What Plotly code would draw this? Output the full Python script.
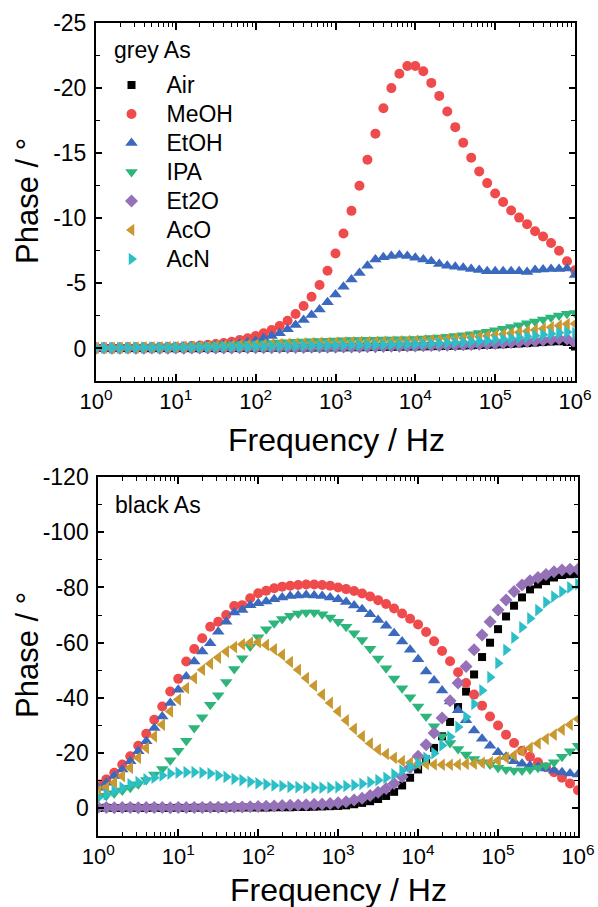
import plotly.graph_objects as go

# ---- measurement sweep (Hz), 10 points per decade ----
freq = [1, 1.259, 1.585, 1.995, 2.512, 3.162, 3.981, 5.012, 6.31, 7.943,
        10, 12.59, 15.85, 19.95, 25.12, 31.62, 39.81, 50.12, 63.1, 79.43,
        100, 125.9, 158.5, 199.5, 251.2, 316.2, 398.1, 501.2, 631, 794.3,
        1000, 1259, 1585, 1995, 2512, 3162, 3981, 5012, 6310, 7943,
        10000, 12590, 15850, 19950, 25120, 31620, 39810, 50120, 63100, 79430,
        100000, 125900, 158500, 199500, 251200, 316200, 398100, 501200, 631000, 794300,
        1000000]

# ---- grey As: phase (deg) ----
grey_air = [-0.03, -0.03, -0.02, -0.03, -0.02, -0.03, -0.02, -0.02, -0.03, -0.02,
            -0.02, -0.03, -0.02, -0.02, -0.03, -0.02, -0.03, -0.03, -0.03, -0.04,
            -0.04, -0.04, -0.05, -0.05, -0.05, -0.06, -0.06, -0.06, -0.07, -0.07,
            -0.08, -0.08, -0.09, -0.09, -0.10, -0.11, -0.11, -0.12, -0.13, -0.14,
            -0.15, -0.16, -0.17, -0.18, -0.19, -0.21, -0.22, -0.24, -0.26, -0.28,
            -0.30, -0.32, -0.35, -0.38, -0.41, -0.45, -0.49, -0.53, -0.55, -0.50, -0.15]
grey_meoh = [-0.05, -0.05, -0.06, -0.06, -0.07, -0.07, -0.08, -0.09, -0.10, -0.11,
             -0.12, -0.15, -0.18, -0.22, -0.28, -0.34, -0.42, -0.52, -0.65, -0.78,
             -0.96, -1.17, -1.42, -1.73, -2.13, -2.65, -3.26, -3.97, -4.87, -5.97,
             -7.30, -8.83, -10.57, -12.50, -14.50, -16.50, -18.45, -20.00, -21.10, -21.70,
             -21.70, -21.30, -20.40, -19.40, -18.20, -17.00, -15.80, -14.65, -13.60, -12.70,
             -11.90, -11.25, -10.60, -10.05, -9.55, -9.00, -8.60, -8.10, -7.50, -6.70, -6.00]
grey_etoh = [-0.05, -0.05, -0.06, -0.06, -0.07, -0.07, -0.08, -0.09, -0.10, -0.11,
             -0.12, -0.13, -0.15, -0.17, -0.19, -0.22, -0.26, -0.31, -0.38, -0.47,
             -0.60, -0.78, -0.96, -1.17, -1.47, -1.80, -2.19, -2.57, -3.00, -3.55,
             -4.15, -4.74, -5.30, -5.80, -6.35, -6.84, -7.00, -7.10, -7.17, -7.10,
             -6.97, -6.84, -6.69, -6.48, -6.35, -6.27, -6.20, -6.10, -6.02, -5.94,
             -5.94, -5.94, -5.94, -5.94, -5.87, -6.02, -6.07, -6.10, -6.10, -6.15, -5.64]
grey_ipa = [-0.05, -0.05, -0.06, -0.06, -0.07, -0.08, -0.08, -0.09, -0.10, -0.11,
            -0.12, -0.14, -0.15, -0.17, -0.19, -0.21, -0.24, -0.27, -0.30, -0.33,
            -0.36, -0.39, -0.42, -0.45, -0.48, -0.51, -0.54, -0.56, -0.58, -0.60,
            -0.62, -0.63, -0.64, -0.65, -0.66, -0.67, -0.68, -0.69, -0.70, -0.71,
            -0.73, -0.76, -0.80, -0.84, -0.89, -0.95, -1.02, -1.10, -1.19, -1.29,
            -1.40, -1.52, -1.65, -1.79, -1.93, -2.08, -2.23, -2.38, -2.53, -2.66, -2.72]
grey_et2o = [-0.02, -0.03, -0.02, -0.02, -0.03, -0.02, -0.02, -0.03, -0.02, -0.02,
             -0.03, -0.02, -0.03, -0.03, -0.03, -0.04, -0.04, -0.04, -0.05, -0.05,
             -0.05, -0.06, -0.06, -0.07, -0.07, -0.08, -0.08, -0.09, -0.09, -0.10,
             -0.10, -0.11, -0.12, -0.12, -0.13, -0.14, -0.15, -0.16, -0.17, -0.18,
             -0.19, -0.20, -0.22, -0.23, -0.25, -0.27, -0.29, -0.31, -0.33, -0.36,
             -0.39, -0.42, -0.45, -0.49, -0.53, -0.58, -0.63, -0.69, -0.74, -0.72, -0.42]
grey_aco = [-0.04, -0.05, -0.05, -0.06, -0.06, -0.07, -0.08, -0.08, -0.09, -0.10,
            -0.11, -0.12, -0.13, -0.15, -0.16, -0.18, -0.20, -0.22, -0.24, -0.26,
            -0.28, -0.30, -0.32, -0.34, -0.36, -0.38, -0.40, -0.41, -0.43, -0.44,
            -0.45, -0.46, -0.47, -0.48, -0.49, -0.50, -0.52, -0.53, -0.55, -0.57,
            -0.59, -0.62, -0.65, -0.68, -0.72, -0.76, -0.80, -0.85, -0.90, -0.96,
            -1.02, -1.09, -1.16, -1.24, -1.33, -1.42, -1.52, -1.63, -1.75, -1.87, -1.90]
grey_acn = [-0.04, -0.04, -0.05, -0.05, -0.05, -0.06, -0.06, -0.06, -0.07, -0.07,
            -0.08, -0.08, -0.09, -0.09, -0.10, -0.11, -0.12, -0.12, -0.13, -0.14,
            -0.15, -0.16, -0.17, -0.18, -0.19, -0.20, -0.21, -0.22, -0.22, -0.23,
            -0.24, -0.25, -0.26, -0.27, -0.28, -0.29, -0.30, -0.31, -0.32, -0.33,
            -0.35, -0.37, -0.39, -0.41, -0.44, -0.47, -0.50, -0.54, -0.58, -0.62,
            -0.67, -0.72, -0.78, -0.84, -0.91, -0.98, -1.05, -1.12, -1.20, -1.26, -1.18]

# ---- black As: phase (deg) ----
black_air = [-0.1, -0.2, -0.1, -0.1, -0.2, -0.1, -0.1, -0.2, -0.1, -0.1,
             -0.2, -0.1, -0.2, -0.2, -0.2, -0.2, -0.2, -0.3, -0.3, -0.3,
             -0.3, -0.3, -0.4, -0.4, -0.4, -0.5, -0.5, -0.6, -0.7, -0.8,
             -0.9, -1.1, -1.5, -2.0, -2.6, -3.4, -4.5, -6.0, -8.3, -11.1,
             -14.1, -17.7, -21.9, -26.1, -31.3, -36.7, -42.3, -48.5, -54.8, -60.0,
             -64.9, -69.5, -73.4, -76.4, -79.3, -81.1, -82.3, -83.6, -84.5, -84.8, -84.9]
black_meoh = [-8.7, -10.5, -12.9, -15.9, -18.9, -22.7, -27.0, -32.1, -36.9, -42.3,
              -46.9, -53.2, -57.7, -61.6, -65.8, -67.6, -70.0, -73.3, -73.6, -76.1,
              -77.9, -78.8, -79.7, -80.3, -80.6, -80.9, -81.1, -81.1, -80.9, -80.6,
              -80.0, -79.4, -78.7, -77.8, -76.7, -75.4, -74.0, -72.4, -70.6, -68.7,
              -66.6, -63.9, -60.5, -57.0, -53.3, -49.3, -45.4, -41.2, -37.2, -33.3,
              -30.0, -26.7, -23.7, -20.9, -18.7, -16.7, -14.9, -13.1, -11.1, -9.0, -6.6]
black_etoh = [-7.5, -9.3, -11.7, -14.1, -17.1, -20.7, -24.3, -29.1, -33.3, -38.2,
              -43.0, -47.8, -53.2, -56.8, -59.8, -64.0, -67.6, -70.9, -71.8, -73.6,
              -74.3, -74.9, -75.7, -76.4, -76.9, -77.1, -77.3, -77.1, -76.9, -76.4,
              -75.7, -74.7, -73.5, -72.1, -70.3, -68.2, -66.1, -63.4, -60.4, -57.4,
              -54.0, -49.6, -46.3, -42.7, -38.7, -35.5, -31.9, -28.2, -25.2, -22.7,
              -20.3, -18.7, -17.1, -16.2, -15.5, -15.0, -14.4, -13.7, -13.1, -12.6, -12.3]
black_ipa = [-3.9, -4.6, -5.5, -6.5, -7.5, -8.7, -10.3, -12.3, -14.3, -17.4,
             -20.9, -24.5, -29.1, -33.0, -37.5, -41.0, -45.8, -50.5, -54.4, -58.6,
             -62.0, -64.9, -67.0, -68.6, -69.8, -70.6, -70.9, -70.9, -70.3, -69.1,
             -67.6, -65.8, -63.4, -61.0, -57.8, -54.3, -50.7, -47.0, -43.5, -40.2,
             -36.9, -33.3, -29.7, -26.1, -23.7, -21.5, -19.5, -17.9, -16.7, -15.9,
             -14.7, -14.1, -13.7, -13.7, -14.1, -14.7, -15.5, -16.7, -18.7, -20.7, -22.7]
black_et2o = [-0.3, -0.3, -0.2, -0.3, -0.3, -0.2, -0.3, -0.3, -0.3, -0.2,
              -0.3, -0.3, -0.3, -0.3, -0.4, -0.4, -0.4, -0.5, -0.5, -0.6,
              -0.7, -0.8, -0.9, -1.0, -1.1, -1.2, -1.3, -1.5, -1.6, -1.8,
              -2.0, -2.4, -3.0, -3.7, -4.7, -5.8, -7.2, -9.0, -11.5, -14.8,
              -18.9, -23.0, -27.3, -32.7, -39.0, -45.4, -51.4, -57.4, -62.8, -67.6,
              -71.8, -75.5, -78.5, -80.9, -82.4, -83.6, -84.7, -85.7, -86.3, -86.6, -86.6]
black_aco = [-6.3, -7.5, -9.3, -11.7, -14.7, -18.3, -21.9, -26.1, -30.3, -35.1,
             -39.4, -43.6, -47.2, -50.2, -52.4, -54.6, -56.8, -58.4, -59.4, -60.0,
             -60.2, -59.2, -57.6, -55.6, -53.0, -50.2, -47.2, -44.4, -41.2, -38.2,
             -35.1, -31.9, -28.8, -26.1, -23.5, -21.3, -19.7, -18.3, -17.1, -16.5,
             -16.2, -16.1, -15.9, -15.8, -15.8, -15.9, -16.1, -16.2, -16.5, -16.7,
             -17.3, -18.3, -19.2, -20.7, -21.9, -23.5, -25.2, -26.7, -28.5, -30.3, -32.4]
black_acn = [-3.9, -5.1, -6.3, -7.5, -8.7, -9.5, -10.5, -11.1, -11.9, -12.6,
             -12.9, -13.1, -13.1, -12.9, -12.6, -11.9, -11.4, -10.7, -10.2, -9.6,
             -9.1, -8.7, -8.3, -8.1, -7.8, -7.7, -7.5, -7.5, -7.5, -7.5,
             -7.7, -8.1, -8.4, -8.9, -9.5, -10.2, -11.1, -12.3, -13.7, -15.0,
             -16.3, -18.3, -20.0, -22.8, -25.9, -29.5, -33.1, -37.8, -42.7, -47.5,
             -52.6, -57.4, -61.8, -65.6, -68.8, -71.8, -74.6, -76.7, -78.5, -80.0, -81.2]

# ---- series names, colours and symbols ----
names = ["Air", "MeOH", "EtOH", "IPA", "Et2O", "AcO", "AcN"]
colors = ["#000000", "#F04B4C", "#3A69BE", "#2DB57C", "#9572B8", "#C9982F", "#2CBFC7"]
symbols = ["square", "circle", "triangle-up", "triangle-down", "diamond",
           "triangle-left", "triangle-right"]
sizes = [8, 10, 11, 11, 10, 11, 11]
grey_series = [grey_air, grey_meoh, grey_etoh, grey_ipa, grey_et2o, grey_aco, grey_acn]
black_series = [black_air, black_meoh, black_etoh, black_ipa, black_et2o, black_aco, black_acn]

# ---- axis ticks ----
x_ticks = [1, 10, 100, 1000, 10000, 100000, 1000000]
x_ticktext = ["10<sup>%d</sup>" % i for i in range(7)]
x_minor = [m * 10 ** d for d in range(6) for m in range(2, 10)]
top_yticks = [-25, -20, -15, -10, -5, 0]
top_yminor = [-22.5, -17.5, -12.5, -7.5, -2.5]
bot_yticks = [-120, -100, -80, -60, -40, -20, 0]
bot_yminor = [-110, -90, -70, -50, -30, -10]

FONT = "Liberation Sans, Arial, sans-serif"
LEGEND_TEXT = '<span style="font-size:23px">%s</span>'

fig = go.Figure()
for name, col, sym, sz, yv in zip(names, colors, symbols, sizes, grey_series):
    fig.add_trace(go.Scatter(x=freq, y=yv, mode="markers", name=LEGEND_TEXT % name,
                             marker=dict(symbol=sym, color=col, size=sz, line=dict(width=0)),
                             xaxis="x", yaxis="y"))
for name, col, sym, sz, yv in zip(names, colors, symbols, sizes, black_series):
    fig.add_trace(go.Scatter(x=freq, y=yv, mode="markers", name=name, showlegend=False,
                             marker=dict(symbol=sym, color=col, size=sz, line=dict(width=0)),
                             xaxis="x2", yaxis="y2"))


def x_axis(domain, anchor):
    return dict(type="log", range=[0, 6], domain=domain, anchor=anchor,
                showline=True, linecolor="black", linewidth=2, mirror="allticks",
                ticks="inside", ticklen=7, tickwidth=1.5, tickcolor="black",
                tickmode="array", tickvals=x_ticks, ticktext=x_ticktext,
                tickfont=dict(family=FONT, size=22, color="black"),
                showgrid=False, zeroline=False, automargin=False,
                minor=dict(tickmode="array", tickvals=x_minor, ticks="inside", ticklen=4,
                           tickwidth=1.2, tickcolor="black", showgrid=False))


def y_axis(domain, anchor, rng, ticks, minor):
    return dict(range=rng, domain=domain, anchor=anchor,
                showline=True, linecolor="black", linewidth=2, mirror="allticks",
                ticks="inside", ticklen=6, tickwidth=1.5, tickcolor="black",
                tickmode="array", tickvals=ticks, ticktext=[str(t) for t in ticks],
                tickfont=dict(family=FONT, size=23, color="black"),
                ticklabelstandoff=3,
                showgrid=False, zeroline=False, automargin=False,
                minor=dict(tickmode="array", tickvals=minor, ticks="inside", ticklen=4,
                           tickwidth=1.2, tickcolor="black", showgrid=False))


def label(text, x, y, size, angle=0, anchor="center"):
    return dict(text=text, x=x / W, y=1 - y / H, xref="paper", yref="paper",
                showarrow=False, textangle=angle,
                font=dict(family=FONT, size=size, color="black"),
                xanchor=anchor, yanchor="middle")


W, H = 598, 907
fig.update_layout(
    width=W, height=H,
    margin=dict(l=0, r=0, t=0, b=0),
    paper_bgcolor="white", plot_bgcolor="white",
    font=dict(family=FONT, color="black"),
    xaxis=x_axis([96 / W, 575 / W], "y"),
    yaxis=y_axis([1 - 381 / H, 1 - 23 / H], "x", [2.5, -25], top_yticks, top_yminor),
    xaxis2=x_axis([98.3 / W, 578 / W], "y2"),
    yaxis2=y_axis([1 - 836 / H, 1 - 477 / H], "x2", [10, -120], bot_yticks, bot_yminor),
    showlegend=True,
    legend=dict(x=96.5 / W, y=1 - 65.5 / H, xanchor="left", yanchor="top",
                bgcolor="rgba(0,0,0,0)", borderwidth=0,
                font=dict(family=FONT, size=20, color="black"),
                itemwidth=60, tracegroupgap=0),
    annotations=[
        label("grey As", 112, 50, 23, anchor="left"),
        label("black As", 113, 505, 23, anchor="left"),
        label("Frequency / Hz", 336, 440, 32),
        label("Frequency / Hz", 338, 890, 32),
        label("Phase / °", 27, 201, 31, angle=-90),
        label("Phase / °", 27, 655, 31, angle=-90),
    ],
)

fig.write_html("out.html")
